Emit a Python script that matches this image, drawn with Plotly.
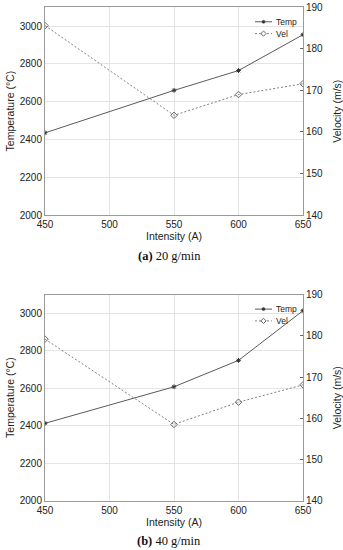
import plotly.graph_objects as go

intensity = [450, 550, 600, 650]
temp_a = [2435, 2660, 2765, 2955]
vel_a = [185.6, 164.0, 169.0, 171.6]
temp_b = [2413, 2608, 2749, 3014]
vel_b = [179.2, 158.5, 163.9, 168.1]
captions = ["<b>(a)</b> 20 g/min", "<b>(b)</b> 40 g/min"]
series_names = ["Temp", "Vel"]

FONT = "Liberation Sans, Arial, sans-serif"
LINE_T = "#5a5a5a"
LINE_V = "#808080"
AXC = "#9a9a9a"
GRID = "#e4e4e4"

W, H = 343.0, 550.0
L, R = 45.0, 40.0
PW = W - L - R

def px2x(px):
    return (px - L) / PW

def py2y(py):
    return 1 - py / H

fig = go.Figure()

def add_panel(temp, vel, xa, ya, ya2):
    fig.add_trace(go.Scatter(
        x=intensity, y=temp, name=series_names[0], mode="lines+markers",
        line=dict(color=LINE_T, width=1),
        marker=dict(symbol="asterisk", size=4, color="#333333", line=dict(width=1, color="#333333")),
        xaxis=xa, yaxis=ya, showlegend=False))
    fig.add_trace(go.Scatter(
        x=intensity, y=vel, name=series_names[1], mode="lines+markers",
        line=dict(color=LINE_V, width=1, dash="2px,2px"),
        marker=dict(symbol="diamond-open", size=5, color="#666666", line=dict(width=1)),
        xaxis=xa, yaxis=ya2, showlegend=False))

add_panel(temp_a, vel_a, "x", "y", "y2")
add_panel(temp_b, vel_b, "x2", "y3", "y4")

dom_a = [py2y(215), py2y(7.3)]
dom_b = [py2y(500.7), py2y(294.6)]

tickf = dict(family=FONT, size=10, color="#222222")
titlef = dict(family=FONT, size=10.5, color="#222222")

def xax(anchor):
    return dict(domain=[0, 1], anchor=anchor, range=[450, 650], dtick=50, tick0=450,
                showgrid=True, gridcolor=GRID, gridwidth=1, zeroline=False,
                showline=True, linecolor=AXC, linewidth=1, mirror=True,
                ticks="", tickfont=tickf, automargin=False,
                title=dict(text="Intensity (A)", font=titlef, standoff=3))

def yleft(anchor, dom):
    return dict(domain=dom, anchor=anchor, range=[2000, 3100], dtick=200, tick0=2000,
                showgrid=True, gridcolor=GRID, gridwidth=1, zeroline=False,
                showline=True, linecolor=AXC, linewidth=1,
                ticks="", tickfont=tickf, automargin=False,
                title=dict(text="Temperature (°C)", font=titlef, standoff=3))

def yright(anchor, over, dom):
    return dict(domain=dom, anchor=anchor, overlaying=over, side="right",
                range=[140, 190], dtick=10, tick0=140,
                showgrid=False, zeroline=False,
                showline=True, linecolor=AXC, linewidth=1,
                ticks="inside", ticklen=3, tickcolor="#666666", tickfont=tickf,
                automargin=False,
                title=dict(text="Velocity (m/s)", font=titlef, standoff=11))

fig.update_layout(
    width=343, height=550,
    margin=dict(l=L, r=R, t=0, b=0, autoexpand=False),
    paper_bgcolor="white", plot_bgcolor="white",
    showlegend=False,
    xaxis=xax("y"),
    yaxis=yleft("x", dom_a),
    yaxis2=yright("x", "y", dom_a),
    xaxis2=xax("y3"),
    yaxis3=yleft("x2", dom_b),
    yaxis4=yright("x2", "y3", dom_b),
)

# manual compact legends (one per panel)
legf = dict(family=FONT, size=8.5, color="#222222")

def legend_at(top_py):
    rows = [top_py + 14.5, top_py + 26.3]
    x0, x1 = 255, 272
    xm = (x0 + x1) / 2
    y = rows[0]
    fig.add_shape(type="line", xref="paper", yref="paper",
                  x0=px2x(x0), x1=px2x(x1), y0=py2y(y), y1=py2y(y),
                  line=dict(color=LINE_T, width=1))
    r = 1.5
    fig.add_shape(type="circle", xref="paper", yref="paper",
                  x0=px2x(xm - r), x1=px2x(xm + r), y0=py2y(y - r), y1=py2y(y + r),
                  fillcolor="#333333", line=dict(color="#333333", width=0.5))
    fig.add_annotation(text=series_names[0], xref="paper", yref="paper",
                       x=px2x(274), y=py2y(y), xanchor="left", yanchor="middle",
                       showarrow=False, font=legf)
    y = rows[1]
    fig.add_shape(type="line", xref="paper", yref="paper",
                  x0=px2x(x0), x1=px2x(x1), y0=py2y(y), y1=py2y(y),
                  line=dict(color=LINE_V, width=1, dash="2px,2px"))
    d = 2.6
    path = "M {} {} L {} {} L {} {} L {} {} Z".format(
        px2x(xm), py2y(y - d), px2x(xm + d), py2y(y),
        px2x(xm), py2y(y + d), px2x(xm - d), py2y(y))
    fig.add_shape(type="path", xref="paper", yref="paper", path=path,
                  fillcolor="white", line=dict(color="#666666", width=1))
    fig.add_annotation(text=series_names[1], xref="paper", yref="paper",
                       x=px2x(274), y=py2y(y), xanchor="left", yanchor="middle",
                       showarrow=False, font=legf)

legend_at(7.3)
legend_at(294.6)

capf = dict(family="Liberation Serif, Times New Roman, serif", size=12.5, color="#111111")
fig.add_annotation(text=captions[0], xref="paper", yref="paper", x=px2x(169), y=py2y(255.7),
                   xanchor="center", yanchor="middle", showarrow=False, font=capf)
fig.add_annotation(text=captions[1], xref="paper", yref="paper", x=px2x(169), y=py2y(540.7),
                   xanchor="center", yanchor="middle", showarrow=False, font=capf)

fig.write_html("out.html", config={"displayModeBar": False, "staticPlot": True},
               post_script="document.body.style.margin='0';document.body.style.overflow='hidden';")
